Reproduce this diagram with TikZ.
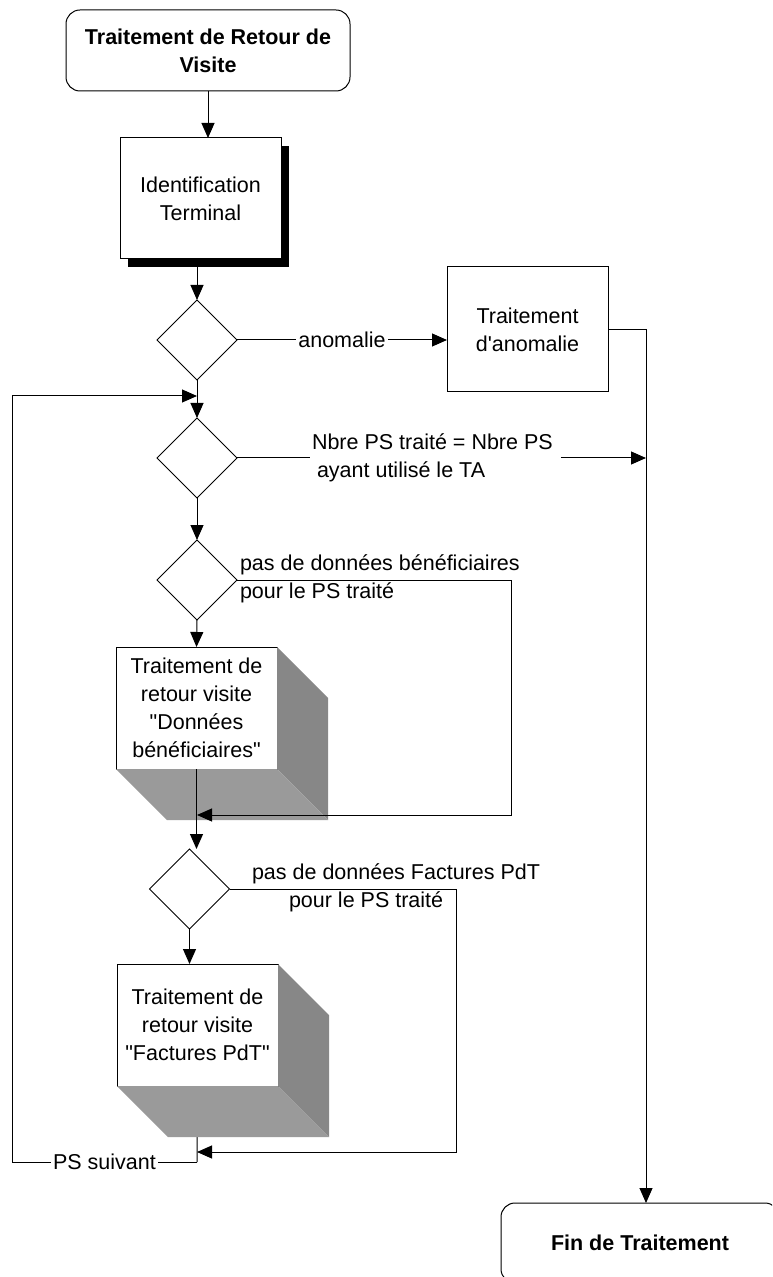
\documentclass[tikz,border=0pt]{standalone}
\usepackage{fontspec}
\setmainfont{Liberation Sans}
\usetikzlibrary{shapes.geometric,shadows,calc,arrows.meta}

\definecolor{sidegrey}{HTML}{878787}
\definecolor{basegrey}{HTML}{9A9A9A}

\tikzset{
	every node/.style={font=\fontsize{10.75}{14}\selectfont, outer sep=0pt},
	terminal/.style={draw, rounded corners=7pt, minimum width=142pt, minimum height=40.5pt,
		align=center, font=\fontsize{10.75}{14}\selectfont\bfseries},
	process/.style={draw, fill=white, minimum width=80.5pt, minimum height=61pt, align=center, inner sep=1pt},
	decision/.style={draw, diamond, aspect=1, minimum width=40pt, minimum height=40pt, inner sep=0pt},
	remark/.style={align=left, inner sep=1pt},
	>={Triangle[length=7.5pt,width=6.5pt]}
}

% grey depth under and right of a box
\newcommand{\boxdepth}[1]{
	\fill[sidegrey] (#1.north east) -- ($(#1.north east)+(25.5pt,-25.5pt)$)
		-- ($(#1.south east)+(25.5pt,-25.5pt)$) -- (#1.south east) -- cycle;
	\fill[basegrey] (#1.south west) -- (#1.south east)
		-- ($(#1.south east)+(25.5pt,-25.5pt)$) -- ($(#1.south west)+(25.5pt,-25.5pt)$) -- cycle;
}

\begin{document}
\begin{tikzpicture}[x=0.5pt, y=-0.5pt, line width=0.5pt]
\useasboundingbox (0,0) rectangle (772,1277);
\clip (0,0) rectangle (772,1277);

\node[terminal] (start) at (208,50.5) {Traitement de Retour de\\Visite};
\node[process, minimum height=60.5pt,
	drop shadow={shadow xshift=4pt, shadow yshift=-4pt, fill=black, opacity=1}] (ident) at (200.5,198.5) {Identification\\Terminal};
\node[decision] (dia1) at (197,340) {};
\node[process, minimum height=62.5pt] (anom) at (527.5,329.5) {Traitement\\d\textquotesingle anomalie};
\node[decision] (dia2) at (197,458) {};
\node[decision] (dia3) at (197,580) {};
\node[process] (benef) at (196.5,708) {Traitement de\\retour visite\\\textquotedbl Données\\bénéficiaires\textquotedbl};
\node[decision] (dia4) at (189.5,889) {};
\node[process] (fact) at (197.5,1025) {Traitement de\\retour visite\\\textquotedbl Factures PdT\textquotedbl};
\node[terminal, minimum width=139pt, minimum height=40pt] (fin) at (640,1243) {Fin de Traitement};

\node[remark, anchor=west] (full) at (310,458) {Nbre PS traité = Nbre PS\\\hspace*{2.5pt}ayant utilisé le TA};
\node[remark, anchor=west] (nobenef) at (238,579) {pas de données bénéficiaires\\pour le PS traité};
\node[remark, anchor=west] (nofact) at (250,888) {pas de données Factures PdT\\\hspace*{18.5pt}pour le PS traité};

\coordinate (rail) at (646,0);
\coordinate (turn3) at (511,580);
\coordinate (join3) at (197,815);
\coordinate (turn4) at (456,889);
\coordinate (join4) at (197,1152);
\coordinate (next) at (197,1162);
\coordinate (back) at (12,396);

\draw (fact.south) -- (next);
\boxdepth{benef}
\boxdepth{fact}

\draw[->] (start.south) -- (start.south |- ident.north);
\draw[->] (dia1.north |- ident.south) -- (dia1.north);
\draw[->] (dia1.east) -- node[fill=white, inner sep=1pt] {anomalie} (anom.west |- dia1.east);
\draw[->] (anom.east) -- (rail |- anom.east) -- (rail |- fin.north);
\draw[->] (dia1.south) -- (dia2.north);
\draw (dia2.east) -- (full.west);
\draw[->] ([xshift=3pt]full.east) -- (rail |- full.east);
\draw[->] (dia2.south) -- (dia3.north);
\draw[->] (dia3.east) -- (turn3) |- (join3);
\draw[->] (dia3.south) -- (benef.north);
\draw[->] (benef.south) -- (benef.south |- dia4.north);
\draw[->] (dia4.east) -- (turn4) |- (join4);
\draw[->] (dia4.south) -- (dia4.south |- fact.north);
\draw[->] (next) -- node[fill=white, inner sep=1pt] {PS suivant} (next -| back) -- (back) -- (dia1.south |- back);

\end{tikzpicture}
\end{document}
